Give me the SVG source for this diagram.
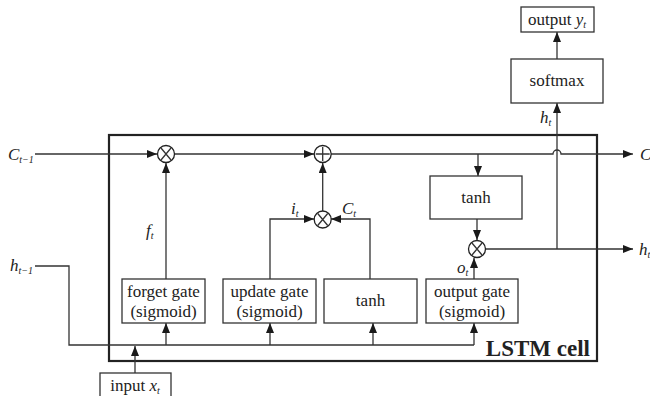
<svg xmlns="http://www.w3.org/2000/svg" width="650" height="396" viewBox="0 0 650 396">
<defs>
<marker id="ah" viewBox="0 0 10 8" refX="10" refY="4" markerWidth="10" markerHeight="8" markerUnits="userSpaceOnUse" orient="auto">
<path d="M0,0 L10,4 L0,8 Z" fill="#1a1a1a"/>
</marker>
</defs>
<style>
.box{fill:#fff;stroke:#333;stroke-width:1.3}
.ln{fill:none;stroke:#333;stroke-width:1.3}
.arr{fill:none;stroke:#333;stroke-width:1.3;marker-end:url(#ah)}
.op{fill:#fff;stroke:#222;stroke-width:1.3}
.t{font-family:'Liberation Serif','DejaVu Serif',serif;font-size:17px;fill:#222;text-anchor:middle}
.v{font-family:'Liberation Serif','DejaVu Serif',serif;font-size:17px;font-style:italic;fill:#222}
.b{font-family:'Liberation Serif','DejaVu Serif',serif;font-size:23px;font-weight:bold;fill:#222;text-anchor:end}
.s{font-size:10px}
</style>
<rect width="650" height="396" fill="#fff"/>
<g id="cell">
<rect x="109" y="135" width="488" height="226" fill="none" stroke="#222" stroke-width="2.2"/>
<text class="b" x="590" y="356">LSTM cell</text>
</g>
<g id="connectors">
<path class="arr" d="M35,154 H157"/>
<path class="arr" d="M174,154 H314"/>
<path class="ln" d="M331,154 H553 a4,4 0 0 1 8,0 H623"/>
<path class="arr" d="M623,154 H633"/>
<path class="arr" d="M478,154 V176"/>
<path class="arr" d="M477,219 V240"/>
<path class="arr" d="M485,249 H633"/>
<path class="arr" d="M557,249 V103"/>
<path class="arr" d="M557,59 V32"/>
<path class="arr" d="M166,279 V163"/>
<path class="arr" d="M270,279 V219 H314"/>
<path class="arr" d="M370,279 V219 H331"/>
<path class="arr" d="M322.7,211 V163"/>
<path class="arr" d="M474,279 V258"/>
<path class="ln" d="M35,266 H69 V345 H474"/>
<path class="arr" d="M166,345 V323"/>
<path class="arr" d="M270,345 V323"/>
<path class="arr" d="M373,345 V323"/>
<path class="arr" d="M474,345 V323"/>
<path class="arr" d="M135,373 V346"/>
</g>
<g id="mul1">
<circle class="op" cx="166" cy="154" r="8.5"/>
<path class="ln" d="M161,148 L171,160 M171,148 L161,160"/>
</g>
<g id="add">
<circle class="op" cx="322.7" cy="154" r="8.5"/>
<path class="ln" d="M322.7,147 V161 M315.7,154 H329.7"/>
</g>
<g id="mul2">
<circle class="op" cx="322.7" cy="219.5" r="8.5"/>
<path class="ln" d="M317.7,213.5 L327.7,225.5 M327.7,213.5 L317.7,225.5"/>
</g>
<g id="mul3">
<circle class="op" cx="477" cy="249" r="8.5"/>
<path class="ln" d="M472,243 L482,255 M482,243 L472,255"/>
</g>
<g id="tanhC">
<rect class="box" x="430" y="176" width="92" height="43"/>
<text class="t" x="476" y="203">tanh</text>
</g>
<g id="forget">
<rect class="box" x="122" y="279" width="83" height="44"/>
<text class="t" x="163.5" y="297">forget gate</text>
<text class="t" x="163.5" y="317">(sigmoid)</text>
</g>
<g id="update">
<rect class="box" x="223" y="279" width="93" height="44"/>
<text class="t" x="269.5" y="297">update gate</text>
<text class="t" x="269.5" y="317">(sigmoid)</text>
</g>
<g id="tanh2">
<rect class="box" x="324" y="279" width="93" height="44"/>
<text class="t" x="370.5" y="306">tanh</text>
</g>
<g id="outgate">
<rect class="box" x="426" y="279" width="92" height="44"/>
<text class="t" x="472" y="297">output gate</text>
<text class="t" x="472" y="317">(sigmoid)</text>
</g>
<g id="input">
<rect class="box" x="100" y="373" width="71" height="30"/>
<text class="t" x="135" y="391">input  <tspan font-style="italic">x<tspan class="s" dy="3">t</tspan></tspan></text>
</g>
<g id="softmax">
<rect class="box" x="511" y="59" width="92" height="44"/>
<text class="t" x="557" y="86">softmax</text>
</g>
<g id="output">
<rect class="box" x="521" y="7" width="73" height="25"/>
<text class="t" x="557" y="25">output  <tspan font-style="italic">y<tspan class="s" dy="3">t</tspan></tspan></text>
</g>
<g id="labels">
<text class="v" x="8" y="160">C<tspan class="s" dy="3">t−1</tspan></text>
<text class="v" x="10" y="271">h<tspan class="s" dy="3">t−1</tspan></text>
<text class="v" x="146" y="236">f<tspan class="s" dy="3">t</tspan></text>
<text class="v" x="291" y="214">i<tspan class="s" dy="3">t</tspan></text>
<text class="v" x="342" y="214">C<tspan class="s" dy="3">t</tspan></text>
<text class="v" x="457" y="273">o<tspan class="s" dy="3">t</tspan></text>
<text class="v" x="540" y="123">h<tspan class="s" dy="3">t</tspan></text>
<text class="v" x="640" y="160">C</text>
<text class="v" x="639" y="255">h<tspan class="s" dy="3">t</tspan></text>
</g>
</svg>
